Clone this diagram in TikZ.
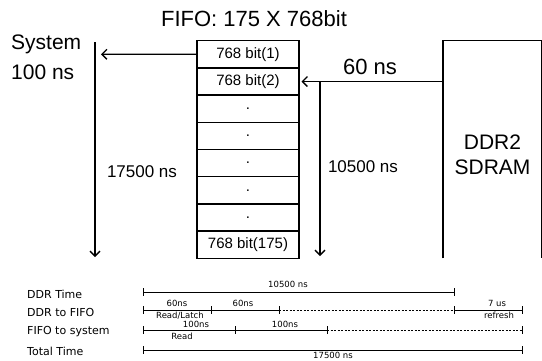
\documentclass[tikz,border=0pt]{standalone}
\usepackage{fontspec}
\setmainfont{Liberation Sans}
\newfontfamily\dv{DejaVu Sans}
\usetikzlibrary{arrows.meta}
\begin{document}
\begin{tikzpicture}[x=1pt,y=-1pt,
  cell/.style={draw,line width=1.5pt,minimum width=102pt,minimum height=27.2pt,inner sep=0pt,outer sep=0pt,anchor=north west,font=\fontsize{15}{15}\selectfont},
  arr/.style={line width=1.3pt,-{Straight Barb[length=5pt,width=10pt,line width=1.3pt]}},
  big/.style={inner sep=0pt,font=\fontsize{21}{25}\selectfont},
  mid/.style={inner sep=0pt,font=\fontsize{17}{17}\selectfont},
  lab/.style={inner sep=0pt,anchor=west,font=\dv\fontsize{11}{12}\selectfont},
  sm/.style={inner sep=0pt,font=\dv\fontsize{8.5}{9}\selectfont},
  tl/.style={line width=0.8pt},
  dl/.style={line width=0.8pt,dash pattern=on 2pt off 1.5pt}]
\useasboundingbox (0,0) rectangle (542,360);
% title
\node[inner sep=0pt,font=\fontsize{22}{22}\selectfont] (title) at (254,19) {FIFO: 175 X 768bit};
% FIFO table
\node[cell] (r1) at (197,40.7) {768 bit(1)};
\node[cell] (r2) at (197,67.9) {768 bit(2)};
\node[cell] (r3) at (197,95.1) {.};
\node[cell] (r4) at (197,122.3) {.};
\node[cell] (r5) at (197,149.5) {.};
\node[cell] (r6) at (197,176.7) {.};
\node[cell] (r7) at (197,203.9) {.};
\node[cell] (r8) at (197,231.1) {768 bit(175)};
% DDR box
\node[inner sep=0pt,outer sep=0pt,minimum width=98.5pt,minimum height=217.6pt,anchor=north west] (ddr) at (443,40.7) {};
\draw[line width=1.5pt] (ddr.south west) -- (ddr.north west) -- (ddr.north east) -- (ddr.south east);
\node[big,align=center] (ddrtxt) at (492.5,154.5) {DDR2\\SDRAM};
% left side
\node[big,anchor=west] (sys) at (11,44) {System};
\node[big,anchor=west] (sysns) at (11,72) {100 ns};
\coordinate (lt) at (95,42);
\coordinate (lb) at (95,257);
\coordinate (lin) at (101,54.3);
\draw[arr] (lt) -- (lb);
\draw[arr] (r1.west) -- (lin);
\node[mid] (t175) at (142,172) {17500 ns};
% right side
\coordinate (rin) at (301.5,81.5);
\coordinate (rb) at (320,256);
\draw[arr] (ddr.west |- rin) -- (rin);
\draw[arr] (rb |- rin) -- (rb);
\node[big,font=\fontsize{22}{22}\selectfont] (n60) at (370,67) {60 ns};
\node[mid] (t105) at (363,167) {10500 ns};
% timing diagram
\node[lab] (l1) at (27,294) {DDR Time};
\node[lab] (l2) at (27,312.5) {DDR to FIFO};
\node[lab] (l3) at (27,332) {FIFO to system};
\node[lab] (l4) at (27,351) {Total Time};
% DDR time
\draw[tl] (143,292) -- (454,292);
\foreach \x in {143,454} \draw[tl] (\x,288) -- (\x,296);
\node[sm] (a1) at (288,284) {10500 ns};
% DDR to FIFO
\draw[tl] (143,310) -- (279,310);
\draw[dl] (279,310) -- (454,310);
\draw[tl] (454,310) -- (522,310);
\foreach \x in {143,211,279,454,522} \draw[tl] (\x,306) -- (\x,314);
\node[sm] (b1) at (177,303) {60ns};
\node[sm] (b2) at (180,315.3) {Read/Latch};
\node[sm] (b3) at (243,303) {60ns};
\node[sm] (b4) at (497,303) {7 us};
\node[sm] (b5) at (499,315.3) {refresh};
% FIFO to system
\draw[tl] (143,330) -- (327,330);
\draw[dl] (327,330) -- (522,330);
\foreach \x in {143,235,327,522} \draw[tl] (\x,326) -- (\x,334);
\node[sm] (c1) at (196,324.3) {100ns};
\node[sm] (c2) at (182,336.5) {Read};
\node[sm] (c3) at (285,324.3) {100ns};
% Total
\draw[tl] (143,350) -- (522,350);
\foreach \x in {143,522} \draw[tl] (\x,346) -- (\x,354);
\node[sm] (d1) at (333,355.3) {17500 ns};
\end{tikzpicture}
\end{document}
